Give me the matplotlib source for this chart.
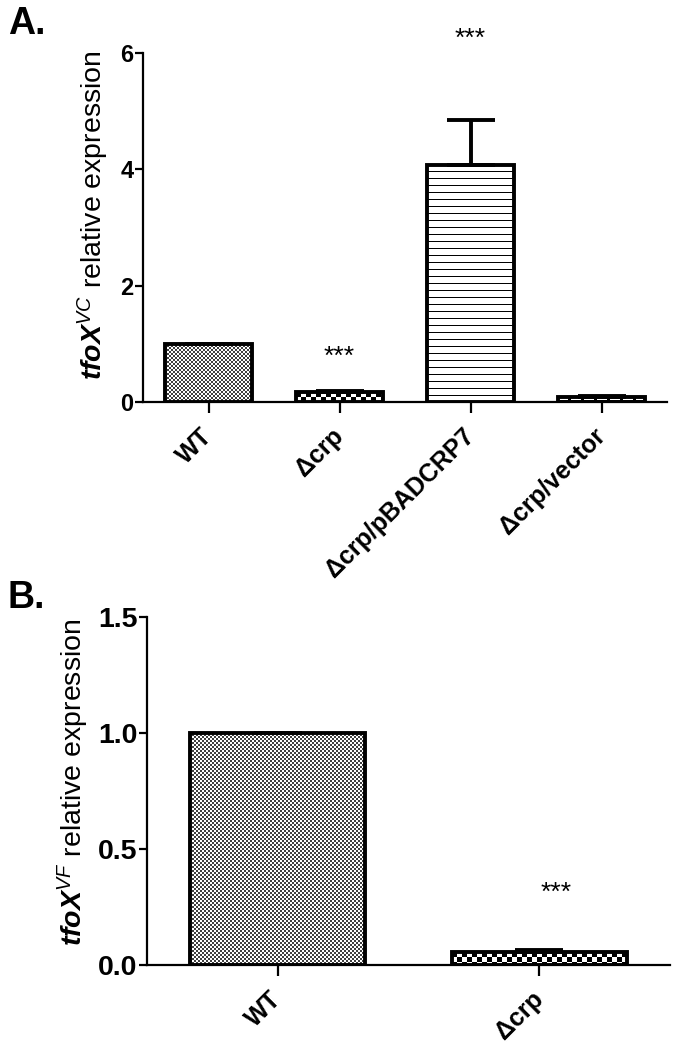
import numpy as np
import matplotlib
matplotlib.use('Agg')
import matplotlib.pyplot as plt

plt.rcParams['font.family'] = ['Liberation Sans', 'DejaVu Sans']
plt.rcParams['mathtext.fontset'] = 'custom'
plt.rcParams['mathtext.rm'] = 'Liberation Sans'
plt.rcParams['mathtext.it'] = 'Liberation Sans:italic'
plt.rcParams['mathtext.bf'] = 'Liberation Sans:bold'
plt.rcParams['mathtext.bfit'] = 'Liberation Sans:bold:italic'

# panel A data
strains_a = ['WT', 'Δcrp', 'Δcrp/pBADCRP7', 'Δcrp/vector']
expr_a = [1.0, 0.17, 4.08, 0.09]
err_a = [0.0, 0.02, 0.77, 0.01]
sig_a = ['', '***', '***', '']

# panel B data
strains_b = ['WT', 'Δcrp']
expr_b = [1.0, 0.055]
err_b = [0.0, 0.01]
sig_b = ['', '***']


def tile_checker(cell, dark=0.0):
    t = np.ones((2 * cell, 2 * cell))
    t[:cell, :cell] = dark
    t[cell:, cell:] = dark
    return t


def tile_lines(period):
    t = np.ones((period, 4))
    t[0, :] = 0
    return t


def tile_dashes():
    t = np.zeros((6, 13))
    t[2:4, :10] = 1
    return t


def pattern_fill(ax, bar, tile):
    """fill a bar with a pixel tile, clipped to the bar"""
    bb = bar.get_window_extent()
    nx = max(int(np.ceil(bb.width)), 1)
    ny = max(int(np.ceil(bb.height)), 1)
    reps = (ny // tile.shape[0] + 1, nx // tile.shape[1] + 1)
    img = np.tile(tile, reps)[:ny, :nx]
    x0, y0 = bar.get_xy()
    w, h = bar.get_width(), bar.get_height()
    im = ax.imshow(img, cmap='gray', vmin=0, vmax=1,
                   extent=(x0, x0 + w, y0, y0 + h), origin='upper',
                   interpolation='nearest', aspect='auto', zorder=2)
    im.set_clip_path(bar)


def style_axes(ax, ylim, yticks, fmt, ytick_size, ylabel, label_xy):
    ax.set_ylim(*ylim)
    ax.set_yticks(yticks)
    ax.set_yticklabels([fmt % v for v in yticks], fontsize=ytick_size,
                       fontweight='bold')
    for s in ['top', 'right']:
        ax.spines[s].set_visible(False)
    for s in ['left', 'bottom']:
        ax.spines[s].set_linewidth(1.6)
    ax.tick_params(axis='y', length=6, width=1.6, pad=1)
    ax.tick_params(axis='x', length=8, width=1.6, pad=14)
    ax.set_ylabel(ylabel, fontsize=20.5)
    ax.yaxis.set_label_coords(*label_xy)


def draw_panel(ax, names, vals, errs):
    x = np.arange(len(names))
    bars = ax.bar(x, vals, width=0.67, facecolor='none', edgecolor='black',
                  linewidth=2.8, zorder=3)
    ax.errorbar(x, vals, yerr=[np.zeros(len(errs)), errs], fmt='none',
                ecolor='black', elinewidth=2.8, capsize=17, capthick=2.8,
                zorder=4)
    ax.set_xlim(-0.5, len(names) - 0.5)
    ax.set_xticks(x)
    ax.set_xticklabels(names, rotation=45, ha='right', va='center',
                       rotation_mode='anchor', fontsize=18,
                       fontweight='bold')
    return bars


fig = plt.figure(figsize=(6.75, 10.47), dpi=100)
ax_a = fig.add_axes([0.2119, 0.6160, 0.7763, 0.3333])
ax_b = fig.add_axes([0.2178, 0.0783, 0.7748, 0.3324])

# panel A
bars_a = draw_panel(ax_a, strains_a, expr_a, err_a)
style_axes(ax_a, (0, 6), [0, 2, 4, 6], '%d', 17,
           r'$\mathbfit{tfoX}^{\mathit{VC}}$ relative expression',
           (-0.062, 0.535))
tiles_a = [tile_checker(2, 0.25), tile_checker(5), tile_lines(7),
           tile_dashes()]
for b, t in zip(bars_a, tiles_a):
    pattern_fill(ax_a, b, t)
ax_a.set_xlim(-0.5, 3.5)
ax_a.set_ylim(0, 6)
ax_a.text(1, 0.77, sig_a[1], ha='center', va='center', fontsize=19)
ax_a.text(2, 6.25, sig_a[2], ha='center', va='center', fontsize=19,
          clip_on=False)

# panel B
bars_b = draw_panel(ax_b, strains_b, expr_b, err_b)
style_axes(ax_b, (0, 1.5), [0, 0.5, 1.0, 1.5], '%.1f', 20.5,
           r'$\mathbfit{tfoX}^{\mathit{VF}}$ relative expression',
           (-0.108, 0.525))
tiles_b = [tile_checker(2, 0.25), tile_checker(5)]
for b, t in zip(bars_b, tiles_b):
    pattern_fill(ax_b, b, t)
ax_b.set_xlim(-0.5, 1.5)
ax_b.set_ylim(0, 1.5)
ax_b.text(1.065, 0.31, sig_b[1], ha='center', va='center', fontsize=19)

fig.text(8 / 675, 1 - 6 / 1047, 'A.', fontsize=27, fontweight='bold',
         va='top', ha='left')
fig.text(8 / 675, 1 - 580 / 1047, 'B.', fontsize=27, fontweight='bold',
         va='top', ha='left')

fig.savefig('out.png', dpi=100)
